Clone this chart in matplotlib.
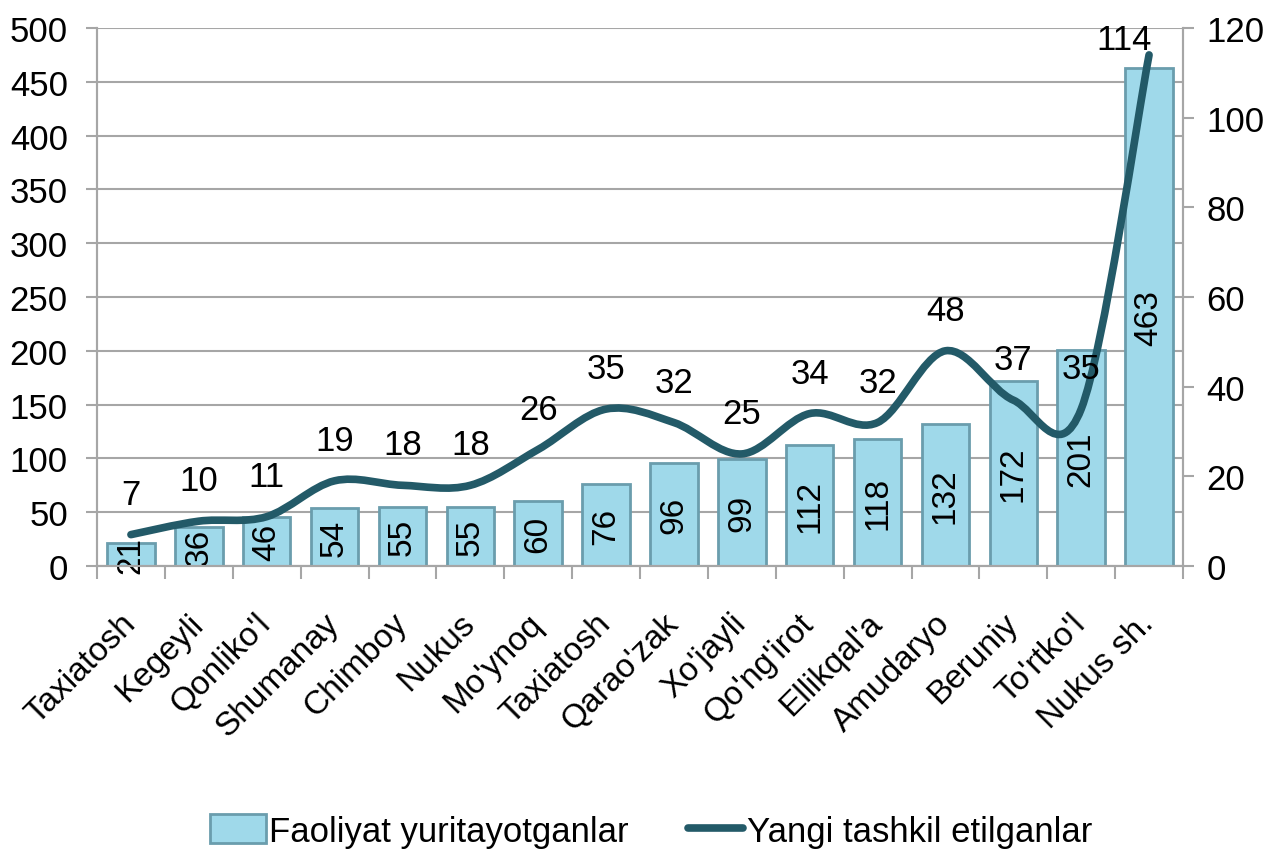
import matplotlib
matplotlib.use("Agg")
import matplotlib.pyplot as plt
from matplotlib.path import Path
from matplotlib.patches import PathPatch, Patch
from matplotlib.lines import Line2D
import numpy as np

categories = ["Taxiatosh", "Kegeyli", "Qonliko'l", "Shumanay", "Chimboy", "Nukus",
              "Mo'ynoq", "Taxiatosh", "Qarao'zak", "Xo'jayli", "Qo'ng'irot",
              "Ellikqal'a", "Amudaryo", "Beruniy", "To'rtko'l", "Nukus sh."]
active = [21, 36, 46, 54, 55, 55, 60, 76, 96, 99, 112, 118, 132, 172, 201, 463]
new = [7, 10, 11, 19, 18, 18, 26, 35, 32, 25, 34, 32, 48, 37, 35, 114]
label_bar = "Faoliyat yuritayotganlar"
label_line = "Yangi tashkil etilganlar"

plt.rcParams['font.family'] = ['Liberation Sans', 'DejaVu Sans']
GRID = '#A6A6A6'
BAR = '#9FD9EA'
BAR_EDGE = '#6A9DAD'
LINE = '#235A68'

fig = plt.figure(figsize=(12.73, 8.54), dpi=100)
ax = fig.add_axes([97/1273, 1-567/854, (1183-97)/1273, (567-29)/854])
ax2 = ax.twinx()

x = np.arange(len(categories))
ax.bar(x, active, width=0.7, color=BAR, edgecolor=BAR_EDGE, linewidth=2, zorder=2)
for xi, v in zip(x, active):
    ax.text(xi, v/2, str(v), rotation=90, ha='center', va='center', fontsize=24,
            color='black', zorder=3)

ax.set_xlim(-0.5, len(categories)-0.5)
ax.set_ylim(0, 500)
ax.set_yticks(np.arange(0, 501, 50))
ax.yaxis.grid(True, color=GRID, linewidth=1.5)
ax.set_axisbelow(True)
ax.tick_params(axis='y', labelsize=25, length=8, width=1.5, color=GRID, pad=13)
ax.set_xticks(x)
ax.set_xticklabels([])
ax.tick_params(axis='x', length=0)
ax.set_xticks(np.arange(-0.5, len(categories), 1), minor=True)
ax.tick_params(axis='x', which='minor', length=9, width=1.5, color=GRID)
for xi, c in zip(x, categories):
    ax.annotate(c, (xi, 0), xytext=(4, -42), textcoords='offset points',
                rotation=45, rotation_mode='anchor', ha='right', va='baseline',
                fontsize=24, annotation_clip=False)

for a in (ax, ax2):
    a.spines['top'].set_visible(False)
    for s in ['left', 'bottom', 'right']:
        a.spines[s].set_color(GRID)
        a.spines[s].set_linewidth(1.5)

ax2.set_ylim(0, 120)
ax2.set_yticks(np.arange(0, 121, 20))
ax2.tick_params(axis='y', labelsize=25, length=8, width=1.5, color=GRID, pad=9)

# smooth line (Bezier through the data points, like a smoothed spreadsheet line)
pts = np.column_stack([x, new]).astype(float)
n = len(pts)
verts = [tuple(pts[0])]
codes = [Path.MOVETO]
for i in range(n-1):
    p0 = pts[i-1] if i > 0 else pts[i]
    p1 = pts[i]
    p2 = pts[i+1]
    p3 = pts[i+2] if i+2 < n else pts[i+1]
    c1 = p1 + (p2 - p0)/6
    c2 = p2 - (p3 - p1)/6
    verts += [tuple(c1), tuple(c2), tuple(p2)]
    codes += [Path.CURVE4]*3
ax2.add_patch(PathPatch(Path(verts, codes), facecolor='none', edgecolor=LINE, linewidth=5.5,
                        capstyle='round', joinstyle='round', zorder=4))
for xi, v in zip(x, new):
    top = v + 9 > 117.5
    ax2.annotate(str(v), (xi, min(v + 9, 117.5)), xytext=(-18 if top else 0, 0),
                 textcoords='offset points', ha='center', va='center', fontsize=25, zorder=5)

handles = [Patch(facecolor=BAR, edgecolor=BAR_EDGE, linewidth=2),
           Line2D([0], [0], color=LINE, linewidth=5.5, solid_capstyle='round')]
fig.legend(handles, [label_bar, label_line], loc='center', bbox_to_anchor=(651/1273, 1-832/854),
           ncol=2, frameon=False, fontsize=25, handlelength=1.6, handleheight=0.9,
           handletextpad=0.1, columnspacing=1.7)

fig.savefig('out.png', dpi=100)
